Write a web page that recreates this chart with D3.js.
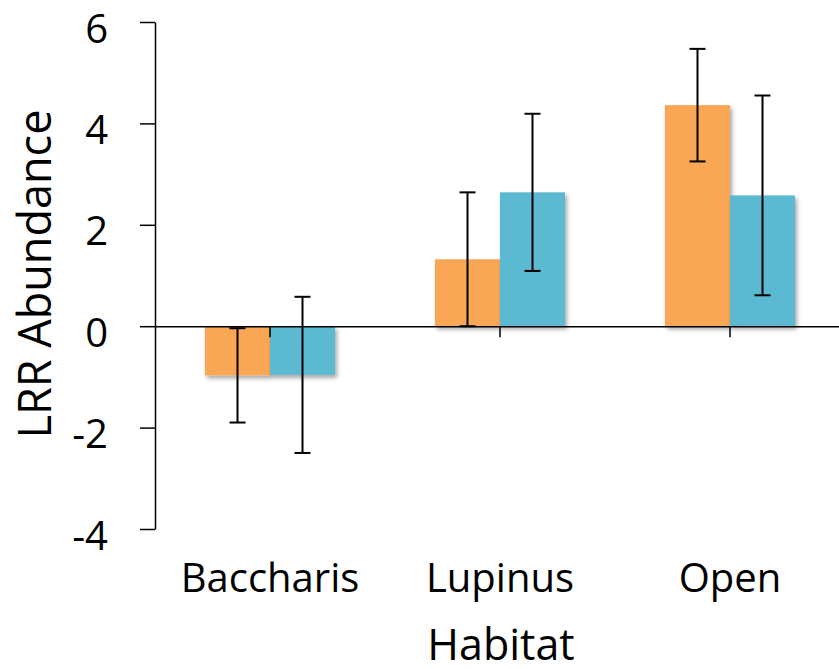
<!DOCTYPE html>
<html>
<head>
<meta charset="utf-8">
<script src="https://cdn.jsdelivr.net/npm/d3@7"></script>
<style>
    body { margin: 0; background: #fff; }
    svg { display: block; }
    svg text { font-family: 'Open Sans', Lato, sans-serif; fill: #000; }
    .axis path, .axis line { stroke: #000; stroke-width: 1.5; }
    .axis text { font-size: 40px; }
    .errbar { stroke: #000; stroke-width: 2; fill: none; }
</style>
</head>
<body>
<script>
const habitats = ['Baccharis', 'Lupinus', 'Open'];
const series = ['orange', 'blue'];
const orangeMean = [-0.97, 1.32, 4.36];
const orangeErr = [0.93, 1.32, 1.11];
const blueMean = [-0.96, 2.64, 2.58];
const blueErr = [1.54, 1.55, 1.97];
const yTicks = [-4, -2, 0, 2, 4, 6];

const colors = { orange: '#F9A755', blue: '#5BB9D2' };

const width = 839, height = 669;

const rows = habitats.map((h, i) => ({
    habitat: h,
    values: [
        { key: 'orange', mean: orangeMean[i], err: orangeErr[i] },
        { key: 'blue', mean: blueMean[i], err: blueErr[i] }
    ]
}));

const svg = d3.select('body').append('svg')
    .attr('width', width).attr('height', height);

// soft shadow like the spreadsheet bars
svg.append('defs').append('filter')
    .attr('id', 'barShadow')
    .attr('x', '-20%').attr('y', '-20%')
    .attr('width', '140%').attr('height', '140%')
  .append('feDropShadow')
    .attr('dx', 2).attr('dy', 3)
    .attr('stdDeviation', 2)
    .attr('flood-color', '#000')
    .attr('flood-opacity', 0.35);

const p = 100/230;
const x0 = d3.scaleBand()
    .domain(habitats)
    .range([155, 845])
    .paddingInner(p)
    .paddingOuter(p/2);

const x1 = d3.scaleBand()
    .domain(series)
    .range([0, x0.bandwidth()]);

const y = d3.scaleLinear()
    .domain([-4, 6])
    .range([529, 22]);

// bars
const groups = svg.append('g').selectAll('g')
    .data(rows)
  .enter().append('g')
    .attr('transform', d => `translate(${x0(d.habitat)},0)`);

groups.selectAll('rect')
    .data(d => d.values)
  .enter().append('rect')
    .attr('x', d => x1(d.key))
    .attr('width', x1.bandwidth())
    .attr('y', d => y(Math.max(0, d.mean)))
    .attr('height', d => Math.abs(y(d.mean) - y(0)))
    .attr('fill', d => colors[d.key])
    .attr('filter', 'url(#barShadow)');

// x axis at zero, ticks at category centres
svg.append('g')
    .attr('class', 'axis')
    .attr('transform', `translate(0,${y(0)})`)
    .call(d3.axisBottom(x0).tickSize(11).tickSizeOuter(0).tickFormat(''));

// y axis
svg.append('g')
    .attr('class', 'axis')
    .attr('transform', 'translate(155,0)')
    .call(d3.axisLeft(y).tickValues(yTicks).tickSize(15).tickSizeOuter(0)
        .tickPadding(32).tickFormat(d => String(d)))
    .call(g => g.attr('font-family', null).attr('font-size', null))
    .call(g => g.selectAll('text').attr('dy', '0.5em'));

// error bars
const cap = 8;
const eb = groups.selectAll('g.errbar')
    .data(d => d.values)
  .enter().append('g')
    .attr('class', 'errbar')
    .attr('transform', d => `translate(${x1(d.key) + x1.bandwidth()/2},0)`);
eb.append('line')
    .attr('y1', d => y(d.mean + d.err))
    .attr('y2', d => y(d.mean - d.err));
eb.append('line')
    .attr('x1', -cap).attr('x2', cap)
    .attr('y1', d => y(d.mean + d.err)).attr('y2', d => y(d.mean + d.err));
eb.append('line')
    .attr('x1', -cap).attr('x2', cap)
    .attr('y1', d => y(d.mean - d.err)).attr('y2', d => y(d.mean - d.err));

// category labels below the plot
svg.append('g').selectAll('text')
    .data(habitats)
  .enter().append('text')
    .attr('x', d => x0(d) + x0.bandwidth()/2)
    .attr('y', 592)
    .attr('text-anchor', 'middle')
    .attr('font-size', 40)
    .text(d => d);

svg.append('text')
    .attr('x', 501).attr('y', 660)
    .attr('text-anchor', 'middle')
    .attr('font-size', 43)
    .text('Habitat');

svg.append('text')
    .attr('transform', 'translate(51,274) rotate(-90)')
    .attr('text-anchor', 'middle')
    .attr('font-size', 45)
    .text('LRR Abundance');
</script>
</body>
</html>
